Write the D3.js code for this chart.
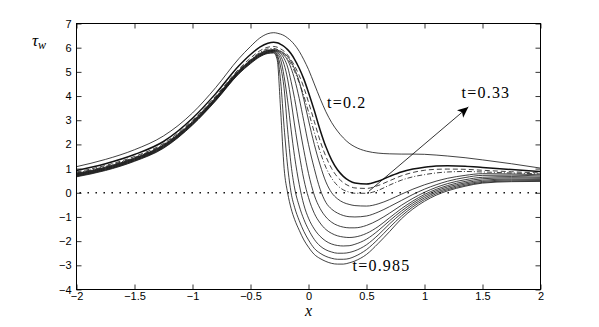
<!DOCTYPE html>
<html><head><meta charset="utf-8">
<script src="https://cdn.jsdelivr.net/npm/d3@7/dist/d3.min.js"></script>
<style>body{margin:0;background:#fff}svg{display:block}</style>
</head><body>
<svg id="c" width="599" height="327"></svg>
<script>
// shared x grid
const xs = [-2,-1.75,-1.5,-1.25,-1,-0.8,-0.6,-0.5,-0.42,-0.35,-0.3,-0.27,-0.24,-0.21,-0.18,-0.15,-0.12,-0.08,-0.04,0,0.05,0.1,0.15,0.2,0.25,0.3,0.35,0.4,0.5,0.6,0.7,0.8,0.9,1,1.1,1.2,1.35,1.5,1.75,2];
// wall shear stress curves (top to bottom)
const tau_t020 = [1.08,1.38,1.78,2.35,3.3,4.35,5.55,6.05,6.4,6.58,6.62,6.6,6.56,6.5,6.4,6.28,6.12,5.85,5.5,5.1,4.5,3.9,3.35,2.9,2.55,2.27,2.05,1.9,1.72,1.64,1.61,1.6,1.6,1.59,1.56,1.52,1.45,1.36,1.2,1.02];
const tau_t033 = [0.92,1.2,1.58,2.12,3.08,4.1,5.25,5.72,6.02,6.18,6.22,6.2,6.14,6.05,5.92,5.75,5.52,5.15,4.7,4.15,3.4,2.6,1.9,1.35,0.95,0.68,0.5,0.4,0.36,0.48,0.68,0.86,0.98,1.06,1.11,1.12,1.1,1.05,0.96,0.88];
const tau_c2 = [0.86,1.13,1.5,2.04,3.0,4.0,5.12,5.57,5.87,6.02,6.05,6.02,5.95,5.85,5.7,5.5,5.25,4.85,4.35,3.75,2.95,2.15,1.5,1.0,0.65,0.42,0.28,0.2,0.18,0.3,0.5,0.7,0.84,0.93,0.97,0.98,0.97,0.93,0.87,0.82];
const tau_c3 = [0.82,1.09,1.46,2.0,2.96,3.96,5.07,5.5,5.8,5.95,5.97,5.93,5.85,5.72,5.55,5.32,5.02,4.55,4.0,3.35,2.5,1.7,1.05,0.6,0.3,0.12,0.03,-0.02,-0.02,0.1,0.32,0.52,0.66,0.75,0.82,0.86,0.88,0.86,0.82,0.78];
const tau_c4 = [0.8,1.06,1.44,1.98,2.94,3.94,5.06,5.48,5.76,5.9,5.92,5.9,5.85,5.77,5.63,5.42,5.12,4.6,3.85,3.0,2.0,1.15,0.45,0.0,-0.25,-0.4,-0.48,-0.53,-0.55,-0.46,-0.28,-0.06,0.15,0.33,0.48,0.6,0.72,0.79,0.78,0.74];
const tau_c5 = [0.78,1.04,1.42,1.96,2.92,3.92,5.04,5.46,5.74,5.88,5.9,5.87,5.8,5.68,5.48,5.15,4.7,3.9,2.95,2.0,1.0,0.15,-0.4,-0.68,-0.84,-0.94,-0.99,-1.0,-0.96,-0.8,-0.57,-0.32,-0.07,0.15,0.33,0.48,0.63,0.72,0.73,0.69];
const tau_c6 = [0.76,1.02,1.4,1.94,2.9,3.9,5.02,5.44,5.72,5.86,5.88,5.84,5.75,5.55,5.2,4.6,3.9,2.8,1.75,0.8,-0.1,-0.65,-1.0,-1.22,-1.35,-1.42,-1.45,-1.45,-1.35,-1.13,-0.84,-0.52,-0.23,0.02,0.22,0.38,0.54,0.64,0.67,0.64];
const tau_c7 = [0.74,1.0,1.38,1.92,2.88,3.88,5.0,5.42,5.7,5.84,5.87,5.8,5.65,5.3,4.7,3.8,2.8,1.6,0.55,-0.2,-0.85,-1.25,-1.52,-1.68,-1.78,-1.83,-1.85,-1.83,-1.68,-1.4,-1.03,-0.66,-0.34,-0.07,0.14,0.3,0.47,0.58,0.62,0.6];
const tau_c8 = [0.72,0.98,1.36,1.9,2.86,3.86,4.98,5.4,5.68,5.82,5.85,5.75,5.5,4.8,3.8,2.6,1.5,0.35,-0.5,-1.05,-1.5,-1.8,-2.0,-2.12,-2.18,-2.2,-2.19,-2.13,-1.92,-1.57,-1.15,-0.76,-0.42,-0.14,0.08,0.24,0.41,0.52,0.57,0.56];
const tau_c9 = [0.7,0.96,1.34,1.88,2.84,3.84,4.96,5.38,5.66,5.8,5.83,5.7,5.2,4.3,2.6,1.15,0.2,-0.55,-1.1,-1.52,-1.93,-2.2,-2.36,-2.45,-2.5,-2.5,-2.47,-2.4,-2.15,-1.75,-1.28,-0.86,-0.5,-0.21,0.02,0.18,0.36,0.47,0.53,0.53];
const tau_c10 = [0.68,0.94,1.32,1.86,2.82,3.82,4.94,5.36,5.64,5.78,5.8,5.62,4.6,2.7,1.1,0.0,-0.6,-1.15,-1.6,-1.95,-2.3,-2.5,-2.63,-2.71,-2.75,-2.75,-2.72,-2.63,-2.35,-1.92,-1.43,-0.97,-0.58,-0.28,-0.04,0.13,0.31,0.43,0.49,0.5];
const tau_t0985 = [0.66,0.92,1.3,1.84,2.8,3.8,4.92,5.34,5.62,5.76,5.78,5.5,3.4,1.0,0.0,-0.65,-1.1,-1.55,-1.95,-2.25,-2.55,-2.72,-2.84,-2.92,-2.95,-2.95,-2.9,-2.82,-2.55,-2.1,-1.6,-1.08,-0.67,-0.35,-0.1,0.08,0.27,0.4,0.46,0.47];

const xTicks = [-2,-1.5,-1,-0.5,0,0.5,1,1.5,2];
const xTickLabels = ["\u22122","\u22121.5","\u22121","\u22120.5","0","0.5","1","1.5","2"];
const yTicks = [-4,-3,-2,-1,0,1,2,3,4,5,6,7];
const yTickLabels = ["\u22124","\u22123","\u22122","\u22121","0","1","2","3","4","5","6","7"];
const annotations = [
  {text:"t=0.2", x:0.16, y:3.5},
  {text:"t=0.33", x:1.32, y:3.9},
  {text:"t=0.985", x:0.38, y:-3.25}
];
const arrowFrom = [0.52, 0.06];
const arrowTo = [1.378, 3.55];

const series = [
  {y:tau_t020, w:0.8, dash:null},
  {y:tau_c10, w:0.8, dash:null},
  {y:tau_c9, w:0.8, dash:null},
  {y:tau_c8, w:0.8, dash:null},
  {y:tau_c7, w:0.8, dash:null},
  {y:tau_c6, w:0.8, dash:null},
  {y:tau_c5, w:0.8, dash:null},
  {y:tau_c4, w:0.8, dash:null},
  {y:tau_t0985, w:0.8, dash:null},
  {y:tau_c3, w:0.8, dash:"5,2,1,2"},
  {y:tau_c2, w:0.8, dash:"5,3"},
  {y:tau_t033, w:1.5, dash:null}
];

const svg = d3.select("#c");
svg.append("rect").attr("width",599).attr("height",327).attr("fill","#fff");
const L=76.5, R=540.5, T=23.5, B=289.5;
const x = d3.scaleLinear().domain([-2,2]).range([L,R]);
const y = d3.scaleLinear().domain([-4,7]).range([B,T]);

const tickFont = "'Liberation Sans', Arial, Helvetica, sans-serif";
function styleAxis(g){
  g.select(".domain").remove();
  g.selectAll(".tick line").attr("stroke","#000").attr("stroke-width",0.8);
  g.selectAll(".tick text").attr("font-family",tickFont).attr("font-size",11).attr("fill","#000");
}
svg.append("g").attr("transform",`translate(0,${B})`)
  .call(d3.axisBottom(x).tickValues(xTicks).tickSize(-5).tickPadding(3).tickFormat((d,i)=>xTickLabels[i]))
  .call(styleAxis);
svg.append("g").attr("transform",`translate(0,${T})`)
  .call(d3.axisTop(x).tickValues(xTicks).tickSize(-5).tickFormat(""))
  .call(styleAxis);
svg.append("g").attr("transform",`translate(${L},0)`)
  .call(d3.axisLeft(y).tickValues(yTicks).tickSize(-5).tickPadding(5).tickFormat((d,i)=>yTickLabels[i]))
  .call(styleAxis);
svg.append("g").attr("transform",`translate(${R},0)`)
  .call(d3.axisRight(y).tickValues(yTicks).tickSize(-5).tickFormat(""))
  .call(styleAxis);

// dotted zero line
svg.append("path").datum([[-2,0],[2,0]])
  .attr("d", d3.line().x(d=>x(d[0])).y(d=>y(d[1])))
  .attr("stroke","#000").attr("stroke-width",1.6).attr("stroke-dasharray","1.4,6.6")
  .attr("transform","translate(3,0)").attr("fill","none");

const line = d3.line().x((d,i)=>x(xs[i])).y(d=>y(d)).curve(d3.curveMonotoneX);
svg.append("g").attr("fill","none").selectAll("path").data(series).join("path")
  .attr("d", d=>line(d.y))
  .attr("stroke","#111")
  .attr("stroke-width", d=>d.w)
  .attr("stroke-dasharray", d=>d.dash);

// frame
svg.append("rect").attr("x",L).attr("y",T).attr("width",R-L).attr("height",B-T)
  .attr("fill","none").attr("stroke","#000").attr("stroke-width",1);

// arrow
svg.append("defs").append("marker").attr("id","ah").attr("viewBox","0 0 10 10")
  .attr("refX",10).attr("refY",5).attr("markerWidth",11).attr("markerHeight",11)
  .attr("markerUnits","userSpaceOnUse").attr("orient","auto")
  .append("path").attr("d","M0,0.5 L10,5 L0,9.5 L2.5,5 Z").attr("fill","#000");
svg.append("path").datum([arrowFrom, arrowTo])
  .attr("d", d3.line().x(d=>x(d[0])).y(d=>y(d[1])))
  .attr("stroke","#000").attr("stroke-width",0.8).attr("fill","none")
  .attr("marker-end","url(#ah)");

// annotations
svg.append("g").selectAll("text").data(annotations).join("text")
  .attr("x",d=>x(d.x)).attr("y",d=>y(d.y))
  .attr("font-family","'Liberation Serif','Times New Roman',serif").attr("font-size",16)
  .attr("letter-spacing",1.2)
  .attr("fill","#000").text(d=>d.text);

// axis labels
svg.append("text").attr("x",x(0)).attr("y",316).attr("text-anchor","middle")
  .attr("font-family","'Liberation Serif',serif").attr("font-style","italic").attr("font-size",16).text("x");
const yl = svg.append("text").attr("x",32).attr("y",46)
  .attr("font-family","'Liberation Serif',serif").attr("font-style","italic").attr("font-size",17);
yl.append("tspan").text("\u03c4");
yl.append("tspan").attr("dy",3).attr("font-size",12).text("w");
</script>
</body></html>
